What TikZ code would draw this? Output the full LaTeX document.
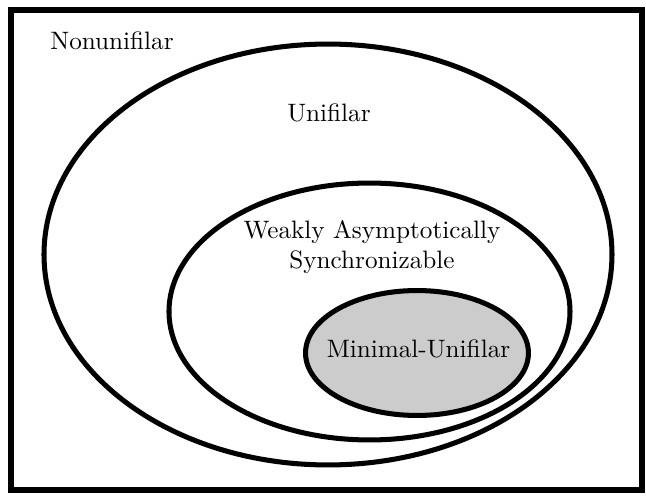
\documentclass[tikz,border=0pt]{standalone}
\usepackage{tikz}
\usetikzlibrary{%
	shapes.geometric%
}

\begin{document}
\begin{tikzpicture}[x=0.397pt,y=-0.397pt,
		set/.style={ellipse,draw,line width=2pt,inner sep=0pt},
		setlabel/.style={inner sep=0pt,anchor=base}]
			\useasboundingbox (0,0) rectangle (646,500);
			\draw[line width=2pt] (11,10) rectangle (642,490);
			%
			\node[set,minimum width=225.5pt,minimum height=167.1pt] (uni) at (328,254.5) {};
			\node[set,minimum width=159.2pt,minimum height=102pt] (was) at (369.5,311.5) {};
			\node[set,fill=black!20,minimum width=88.5pt,minimum height=49.6pt] (mu) at (417,353) {};
			%
			\node[setlabel] (nonunitext) at (112,49) {Nonunifilar};
			\node[setlabel] (unitext) at (329,121) {Unifilar};
			\node[inner sep=0pt,align=center] (wastext) at (372,246.7) {Weakly Asymptotically\\Synchronizable};
			\node[setlabel] (mutext) at (418.5,358) {Minimal-Unifilar};
		\end{tikzpicture}
\end{document}
